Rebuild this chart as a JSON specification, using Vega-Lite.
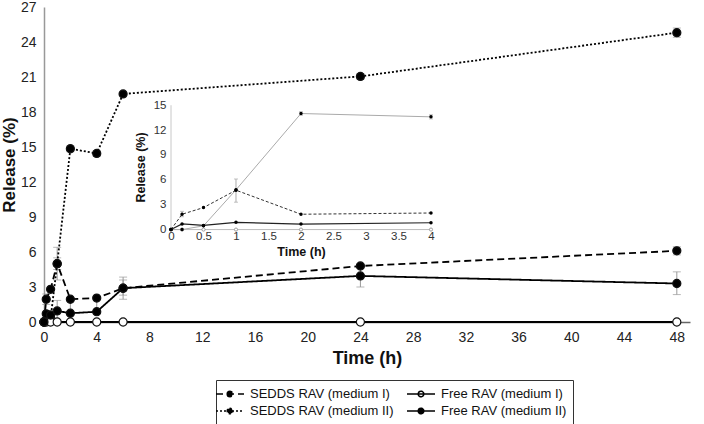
{
  "$schema": "https://vega.github.io/schema/vega-lite/v6.json",
  "width": 646,
  "height": 315,
  "autosize": {"type": "none"},
  "padding": {"left": 44, "top": 7, "right": 14, "bottom": 102},
  "background": "white",
  "config": {
    "view": {"stroke": null},
    "font": "Liberation Sans",
    "axis": {"labelFont": "Liberation Sans", "titleFont": "Liberation Sans", "grid": false},
    "legend": {"labelFont": "Liberation Sans"}
  },
  "datasets": {
    "main": [
      {"series": "SEDDS RAV (medium I)", "time": 0, "release": 0},
      {"series": "SEDDS RAV (medium I)", "time": 0.17, "release": 1.95},
      {"series": "SEDDS RAV (medium I)", "time": 0.5, "release": 2.8},
      {"series": "SEDDS RAV (medium I)", "time": 1, "release": 5.0},
      {"series": "SEDDS RAV (medium I)", "time": 2, "release": 1.95},
      {"series": "SEDDS RAV (medium I)", "time": 4, "release": 2.05},
      {"series": "SEDDS RAV (medium I)", "time": 6, "release": 2.9},
      {"series": "SEDDS RAV (medium I)", "time": 24, "release": 4.8},
      {"series": "SEDDS RAV (medium I)", "time": 48, "release": 6.1},
      {"series": "SEDDS RAV (medium II)", "time": 0, "release": 0},
      {"series": "SEDDS RAV (medium II)", "time": 0.17, "release": 0.1},
      {"series": "SEDDS RAV (medium II)", "time": 0.5, "release": 0.3},
      {"series": "SEDDS RAV (medium II)", "time": 1, "release": 5.0},
      {"series": "SEDDS RAV (medium II)", "time": 2, "release": 14.85},
      {"series": "SEDDS RAV (medium II)", "time": 4, "release": 14.45},
      {"series": "SEDDS RAV (medium II)", "time": 6, "release": 19.55},
      {"series": "SEDDS RAV (medium II)", "time": 24, "release": 21.05},
      {"series": "SEDDS RAV (medium II)", "time": 48, "release": 24.8},
      {"series": "Free RAV (medium I)", "time": 0, "release": 0},
      {"series": "Free RAV (medium I)", "time": 0.17, "release": 0},
      {"series": "Free RAV (medium I)", "time": 0.5, "release": 0},
      {"series": "Free RAV (medium I)", "time": 1, "release": 0},
      {"series": "Free RAV (medium I)", "time": 2, "release": 0},
      {"series": "Free RAV (medium I)", "time": 4, "release": 0},
      {"series": "Free RAV (medium I)", "time": 6, "release": 0},
      {"series": "Free RAV (medium I)", "time": 24, "release": 0},
      {"series": "Free RAV (medium I)", "time": 48, "release": 0},
      {"series": "Free RAV (medium II)", "time": 0, "release": 0},
      {"series": "Free RAV (medium II)", "time": 0.17, "release": 0.7},
      {"series": "Free RAV (medium II)", "time": 0.5, "release": 0.6},
      {"series": "Free RAV (medium II)", "time": 1, "release": 0.95},
      {"series": "Free RAV (medium II)", "time": 2, "release": 0.75},
      {"series": "Free RAV (medium II)", "time": 4, "release": 0.88},
      {"series": "Free RAV (medium II)", "time": 6, "release": 2.9},
      {"series": "Free RAV (medium II)", "time": 24, "release": 3.95},
      {"series": "Free RAV (medium II)", "time": 48, "release": 3.3}
    ],
    "mainErr": [
      {"series": "SEDDS RAV (medium I)", "time": 0.17, "release": 1.5, "hi": 2.4},
      {"series": "SEDDS RAV (medium I)", "time": 1, "release": 4.5, "hi": 5.5},
      {"series": "SEDDS RAV (medium I)", "time": 6, "release": 1.95, "hi": 3.85},
      {"series": "SEDDS RAV (medium I)", "time": 24, "release": 4.6, "hi": 5.0},
      {"series": "SEDDS RAV (medium I)", "time": 48, "release": 5.75, "hi": 6.45},
      {"series": "SEDDS RAV (medium II)", "time": 1, "release": 3.6, "hi": 6.4},
      {"series": "SEDDS RAV (medium II)", "time": 2, "release": 14.6, "hi": 15.1},
      {"series": "SEDDS RAV (medium II)", "time": 4, "release": 14.2, "hi": 14.7},
      {"series": "SEDDS RAV (medium II)", "time": 24, "release": 20.8, "hi": 21.3},
      {"series": "SEDDS RAV (medium II)", "time": 48, "release": 24.4, "hi": 25.2},
      {"series": "Free RAV (medium II)", "time": 1, "release": 0.2, "hi": 1.85},
      {"series": "Free RAV (medium II)", "time": 2, "release": 0.6, "hi": 1.9},
      {"series": "Free RAV (medium II)", "time": 4, "release": 0.7, "hi": 2.05},
      {"series": "Free RAV (medium II)", "time": 6, "release": 2.3, "hi": 3.6},
      {"series": "Free RAV (medium II)", "time": 24, "release": 3.0, "hi": 4.9},
      {"series": "Free RAV (medium II)", "time": 48, "release": 2.35, "hi": 4.3}
    ],
    "inset": [
      {"series": "SEDDS RAV (medium I)", "time": 0, "release": 0},
      {"series": "SEDDS RAV (medium I)", "time": 0.17, "release": 1.85},
      {"series": "SEDDS RAV (medium I)", "time": 0.5, "release": 2.65},
      {"series": "SEDDS RAV (medium I)", "time": 1, "release": 4.75},
      {"series": "SEDDS RAV (medium I)", "time": 2, "release": 1.85},
      {"series": "SEDDS RAV (medium I)", "time": 4, "release": 2.0},
      {"series": "SEDDS RAV (medium II)", "time": 0, "release": 0},
      {"series": "SEDDS RAV (medium II)", "time": 0.17, "release": 0},
      {"series": "SEDDS RAV (medium II)", "time": 0.5, "release": 0.45},
      {"series": "SEDDS RAV (medium II)", "time": 1, "release": 4.8},
      {"series": "SEDDS RAV (medium II)", "time": 2, "release": 14.0},
      {"series": "SEDDS RAV (medium II)", "time": 4, "release": 13.6},
      {"series": "Free RAV (medium I)", "time": 0, "release": 0},
      {"series": "Free RAV (medium I)", "time": 0.17, "release": 0},
      {"series": "Free RAV (medium I)", "time": 0.5, "release": 0},
      {"series": "Free RAV (medium I)", "time": 1, "release": 0},
      {"series": "Free RAV (medium I)", "time": 2, "release": 0},
      {"series": "Free RAV (medium I)", "time": 4, "release": 0},
      {"series": "Free RAV (medium II)", "time": 0, "release": 0},
      {"series": "Free RAV (medium II)", "time": 0.17, "release": 0.68},
      {"series": "Free RAV (medium II)", "time": 0.5, "release": 0.5},
      {"series": "Free RAV (medium II)", "time": 1, "release": 0.88},
      {"series": "Free RAV (medium II)", "time": 2, "release": 0.66},
      {"series": "Free RAV (medium II)", "time": 4, "release": 0.82}
    ],
    "insetErr": [
      {"series": "SEDDS RAV (medium I)", "time": 0.17, "release": 1.55, "hi": 2.2},
      {"series": "SEDDS RAV (medium I)", "time": 1, "release": 3.3, "hi": 6.1},
      {"series": "SEDDS RAV (medium II)", "time": 2, "release": 13.8, "hi": 14.2},
      {"series": "SEDDS RAV (medium II)", "time": 4, "release": 13.35, "hi": 13.85}
    ]
  },
  "resolve": {
    "scale": {"x": "independent", "y": "independent"},
    "axis": {"x": "independent", "y": "independent"}
  },
  "layer": [
    {
      "encoding": {
        "x": {
          "field": "time", "type": "quantitative",
          "scale": {"domain": [0, 49], "nice": false, "zero": false},
          "axis": {
            "orient": "bottom",
            "values": [0, 4, 8, 12, 16, 20, 24, 28, 32, 36, 40, 44, 48],
            "title": "Time (h)", "titleFontSize": 18, "titleFontWeight": "bold", "titleColor": "#111",
            "titlePadding": 5,
            "labelFontSize": 14, "labelColor": "#222", "labelPadding": 8, "labelFlush": false,
            "ticks": false, "domainColor": "#666", "domainWidth": 1.5
          }
        },
        "y": {
          "field": "release", "type": "quantitative",
          "scale": {"domain": [0, 27], "nice": false},
          "axis": {
            "orient": "left",
            "values": [0, 3, 6, 9, 12, 15, 18, 21, 24, 27],
            "title": "Release (%)", "titleFontSize": 17, "titleFontWeight": "bold", "titleColor": "#111",
            "titlePadding": 2,
            "labelFontSize": 14, "labelColor": "#222", "labelPadding": 8, "labelFlush": false,
            "ticks": false, "domainColor": "#999", "domainWidth": 1.5
          }
        }
      },
      "layer": [
        {
          "data": {"name": "mainErr"},
          "mark": {"type": "rule", "color": "#999", "strokeWidth": 1},
          "encoding": {"y2": {"field": "hi"}}
        },
        {
          "data": {"name": "mainErr"},
          "transform": [{"fold": ["release", "hi"], "as": ["end", "release"]}],
          "mark": {"type": "tick", "orient": "horizontal", "color": "#999", "size": 8, "thickness": 1}
        },
        {
          "data": {"name": "main"},
          "mark": {"type": "line", "color": "black", "strokeWidth": 1.8},
          "encoding": {
            "strokeDash": {
              "field": "series", "type": "nominal",
              "scale": {
                "domain": ["SEDDS RAV (medium I)", "SEDDS RAV (medium II)", "Free RAV (medium I)", "Free RAV (medium II)"],
                "range": [[7, 4], [2, 2], [1, 0], [1, 0]]
              },
              "legend": {
                "title": null,
                "orient": "none",
                "legendX": 172,
                "legendY": 373,
                "columns": 2,
                "strokeColor": "#333",
                "padding": 6,
                "rowPadding": 2,
                "columnPadding": 10,
                "symbolType": "M-2,0H2M-0.4,0A0.4,0.4 0 1,1 0.4,0A0.4,0.4 0 1,1 -0.4,0Z",
                "symbolSize": 196,
                "symbolStrokeWidth": 1.5,
                "symbolStrokeColor": "black",
                "labelFontSize": 13,
                "labelColor": "#111",
                "labelOffset": 12,
                "labelLimit": 300
              }
            }
          }
        },
        {
          "data": {"name": "main"},
          "mark": {"type": "point", "filled": true, "size": 65, "stroke": "#111", "strokeWidth": 1.2, "opacity": 1},
          "encoding": {
            "fill": {
              "field": "series", "type": "nominal",
              "scale": {
                "domain": ["SEDDS RAV (medium I)", "SEDDS RAV (medium II)", "Free RAV (medium I)", "Free RAV (medium II)"],
                "range": ["black", "black", "white", "black"]
              },
              "legend": {
                "title": null,
                "orient": "none",
                "legendX": 172,
                "legendY": 373,
                "columns": 2,
                "strokeColor": "#333",
                "padding": 6,
                "rowPadding": 2,
                "columnPadding": 10,
                "symbolType": "M-2,0H2M-0.4,0A0.4,0.4 0 1,1 0.4,0A0.4,0.4 0 1,1 -0.4,0Z",
                "symbolSize": 196,
                "symbolStrokeWidth": 1.5,
                "symbolStrokeColor": "black",
                "labelFontSize": 13,
                "labelColor": "#111",
                "labelOffset": 12,
                "labelLimit": 300
              }
            }
          }
        }
      ]
    },
    {
      "encoding": {
        "x": {
          "field": "time", "type": "quantitative",
          "scale": {"domain": [-1.954, 7.985], "nice": false, "zero": false},
          "axis": {
            "orient": "bottom",
            "offset": -92.2,
            "values": [0, 0.5, 1, 1.5, 2, 2.5, 3, 3.5, 4],
            "labelExpr": "datum.value + ''",
            "labelOverlap": false,
            "domain": false, "ticks": false,
            "labelFontSize": 11.5, "labelColor": "#333", "labelPadding": 1,
            "title": "Time (h)", "titleFontSize": 12.5, "titleFontWeight": "bold", "titleColor": "#111",
            "titleX": 257, "titlePadding": 3
          }
        },
        "y": {
          "field": "release", "type": "quantitative",
          "scale": {"domain": [-11.15, 26.85], "nice": false, "zero": false},
          "axis": {
            "orient": "left",
            "offset": -127,
            "values": [0, 3, 6, 9, 12, 15],
            "labelOverlap": false,
            "domain": false, "ticks": false,
            "labelFontSize": 11.5, "labelColor": "#333", "labelPadding": 5,
            "title": "Release (%)", "titleFontSize": 12.5, "titleFontWeight": "bold", "titleColor": "#111",
            "titleY": 160, "titlePadding": 6
          }
        }
      },
      "layer": [
        {
          "data": {"values": [{"time": 0, "release": 0}]},
          "mark": {"type": "rule", "color": "#c8c8c8", "strokeWidth": 1},
          "encoding": {"y2": {"datum": 15}}
        },
        {
          "data": {"name": "insetErr"},
          "mark": {"type": "rule", "color": "#aaa", "strokeWidth": 1},
          "encoding": {"y2": {"field": "hi"}}
        },
        {
          "data": {"name": "insetErr"},
          "transform": [{"fold": ["release", "hi"], "as": ["end", "release"]}],
          "mark": {"type": "tick", "orient": "horizontal", "color": "#aaa", "size": 4, "thickness": 1}
        },
        {
          "data": {"name": "inset"},
          "transform": [{"filter": "datum.series === 'Free RAV (medium I)'"}],
          "mark": {"type": "line", "color": "#bbbbbb", "strokeWidth": 1}
        },
        {
          "data": {"name": "inset"},
          "transform": [{"filter": "datum.series === 'SEDDS RAV (medium II)'"}],
          "mark": {"type": "line", "color": "#aaaaaa", "strokeWidth": 1}
        },
        {
          "data": {"name": "inset"},
          "transform": [{"filter": "datum.series === 'SEDDS RAV (medium I)'"}],
          "mark": {"type": "line", "color": "#333333", "strokeWidth": 1, "strokeDash": [3, 2]}
        },
        {
          "data": {"name": "inset"},
          "transform": [{"filter": "datum.series === 'Free RAV (medium II)'"}],
          "mark": {"type": "line", "color": "#222222", "strokeWidth": 1.2}
        },
        {
          "data": {"name": "inset"},
          "transform": [{"filter": "datum.series === 'Free RAV (medium I)'"}],
          "mark": {"type": "point", "filled": true, "fill": "white", "stroke": "#888", "strokeWidth": 0.8, "size": 10, "opacity": 1}
        },
        {
          "data": {"name": "inset"},
          "transform": [{"filter": "datum.series !== 'Free RAV (medium I)'"}],
          "mark": {"type": "point", "filled": true, "fill": "black", "size": 12, "opacity": 1}
        }
      ]
    }
  ]
}
